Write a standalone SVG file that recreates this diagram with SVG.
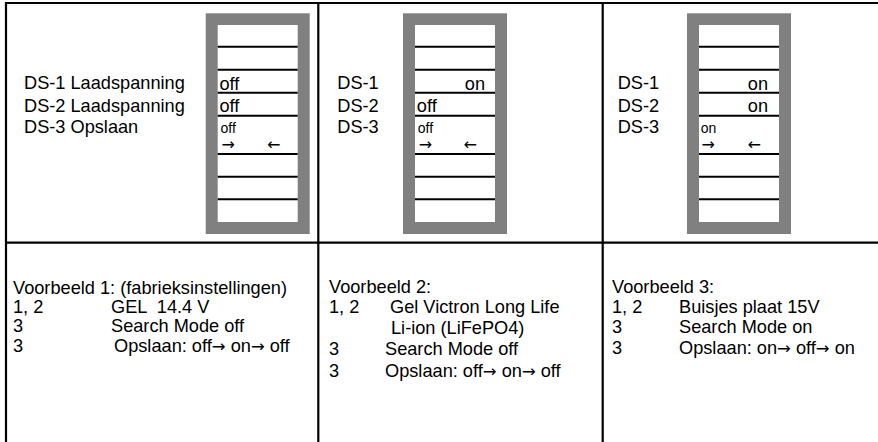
<svg xmlns="http://www.w3.org/2000/svg" width="878" height="442" viewBox="0 0 878 442">
<style>
  text { font-family: "Liberation Sans", Arial, sans-serif; fill: #000; }
  .t { font-size: 18.2px; }
  .s { font-size: 14px; }
  .a { font-family: "DejaVu Sans", sans-serif; font-size: 16px; }
  .ia { font-family: "DejaVu Sans", sans-serif; font-size: 16.5px; }
  .grid { stroke: #000; stroke-width: 2.2; fill: none; }
  .frame { fill: #808080; }
  .inner { fill: #fff; }
  .row { stroke: #000; stroke-width: 2; }
</style>
<defs>
  <g id="display">
    <rect class="frame" x="-12" y="13.3" width="104" height="220.7"/>
    <rect class="inner" x="0" y="25" width="80" height="197"/>
    <line class="row" x1="0" y1="46.7" x2="80" y2="46.7"/>
    <line class="row" x1="0" y1="69.8" x2="80" y2="69.8"/>
    <line class="row" x1="0" y1="92.7" x2="80" y2="92.7"/>
    <line class="row" x1="0" y1="115.7" x2="80" y2="115.7"/>
    <line class="row" x1="0" y1="154" x2="80" y2="154"/>
    <line class="row" x1="0" y1="176.7" x2="80" y2="176.7"/>
    <line class="row" x1="0" y1="199.3" x2="80" y2="199.3"/>
  </g>
</defs>
<rect width="878" height="442" fill="#fff"/>

<g id="grid">
  <line class="grid" x1="6" y1="2" x2="6" y2="442"/>
  <line class="grid" x1="5" y1="3" x2="878" y2="3"/>
  <line class="grid" x1="5" y1="242.7" x2="878" y2="242.7"/>
  <line class="grid" x1="318.3" y1="2" x2="318.3" y2="442"/>
  <line class="grid" x1="602.7" y1="2" x2="602.7" y2="442"/>
</g>

<g id="panel1">
  <use href="#display" x="217.7"/>
  <text class="t" x="24" y="89.3">DS-1 Laadspanning</text>
  <text class="t" x="24" y="111.7">DS-2 Laadspanning</text>
  <text class="t" x="24" y="133.3">DS-3 Opslaan</text>
  <text class="t" x="219.5" y="89.5">off</text>
  <text class="t" x="219.5" y="112.3">off</text>
  <text class="s" x="220.5" y="132.5">off</text>
  <text class="a" x="221.5" y="150">→</text>
  <text class="a" x="267" y="150">←</text>
</g>

<g id="panel2">
  <use href="#display" x="415"/>
  <text class="t" x="337.3" y="89.3">DS-1</text>
  <text class="t" x="337.3" y="111.7">DS-2</text>
  <text class="t" x="337.3" y="133.3">DS-3</text>
  <text class="t" x="485" y="89.5" text-anchor="end">on</text>
  <text class="t" x="416.8" y="112.3">off</text>
  <text class="s" x="417.8" y="132.5">off</text>
  <text class="a" x="418.8" y="150">→</text>
  <text class="a" x="463.5" y="150">←</text>
</g>

<g id="panel3">
  <use href="#display" x="699"/>
  <text class="t" x="617.7" y="89.3">DS-1</text>
  <text class="t" x="617.7" y="111.7">DS-2</text>
  <text class="t" x="617.7" y="133.3">DS-3</text>
  <text class="t" x="768" y="89.5" text-anchor="end">on</text>
  <text class="t" x="768" y="112.3" text-anchor="end">on</text>
  <text class="s" x="700.7" y="132.5">on</text>
  <text class="a" x="701.5" y="150">→</text>
  <text class="a" x="747.5" y="150">←</text>
</g>

<g id="example1">
  <text class="t" x="13" y="294">Voorbeeld 1: (fabrieksinstellingen)</text>
  <text class="t" x="13" y="313.3">1, 2</text>
  <text class="t" x="111" y="313.3" xml:space="preserve">GEL  14.4 V</text>
  <text class="t" x="13" y="332.3">3</text>
  <text class="t" x="111" y="332.3">Search Mode off</text>
  <text class="t" x="13" y="351.5">3</text>
  <text class="t" x="114" y="351.5">Opslaan: off<tspan class="ia">→</tspan> on<tspan class="ia">→</tspan> off</text>
</g>

<g id="example2">
  <text class="t" x="329" y="293.3">Voorbeeld 2:</text>
  <text class="t" x="329" y="313.3">1, 2</text>
  <text class="t" x="390" y="313.3">Gel Victron Long Life</text>
  <text class="t" x="391" y="334">Li-ion (LiFePO4)</text>
  <text class="t" x="329" y="355">3</text>
  <text class="t" x="385" y="355">Search Mode off</text>
  <text class="t" x="329" y="376.7">3</text>
  <text class="t" x="385" y="376.7">Opslaan: off<tspan class="ia">→</tspan> on<tspan class="ia">→</tspan> off</text>
</g>

<g id="example3">
  <text class="t" x="612" y="293.3">Voorbeeld 3:</text>
  <text class="t" x="612" y="313.3">1, 2</text>
  <text class="t" x="679" y="313.3">Buisjes plaat 15V</text>
  <text class="t" x="612" y="333.3">3</text>
  <text class="t" x="679" y="333.3">Search Mode on</text>
  <text class="t" x="612" y="354">3</text>
  <text class="t" x="679" y="354">Opslaan: on<tspan class="ia">→</tspan> off<tspan class="ia">→</tspan> on</text>
</g>
</svg>
